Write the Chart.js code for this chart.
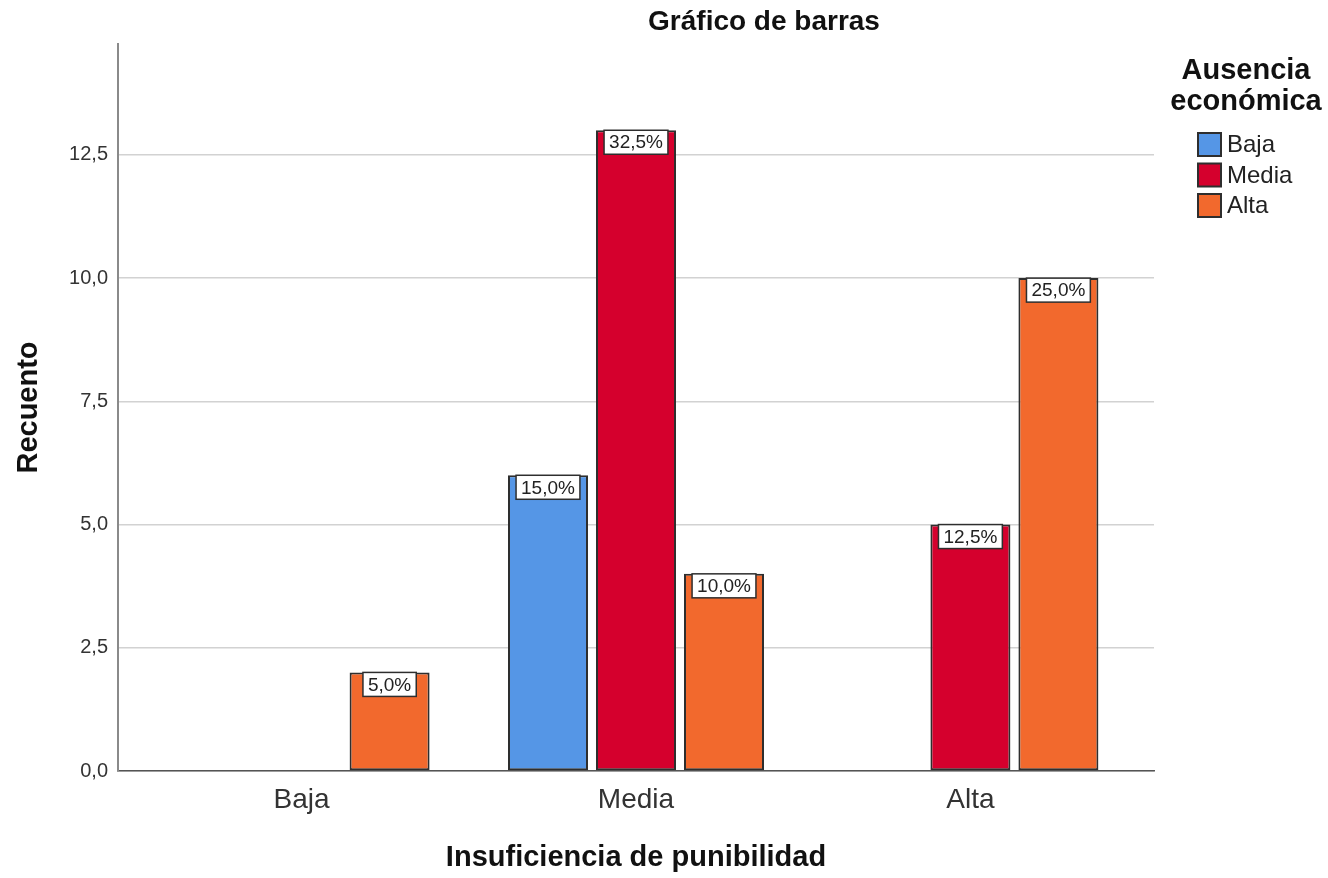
<!DOCTYPE html>
<html>
<head>
<meta charset="utf-8">
<title>Gráfico de barras</title>
<script src="https://cdn.jsdelivr.net/npm/chart.js@4/dist/chart.umd.min.js"></script>
<style>
  html, body { margin: 0; padding: 0; background: #fff; }
  canvas { display: block; }
</style>
</head>
<body>
<canvas id="bargraph" width="1328" height="878"></canvas>
<script>
// Insuficiencia de punibilidad (x) by Ausencia económica (series)
var categories = ["Baja", "Media", "Alta"];
var seriesNames = ["Baja", "Media", "Alta"];
var countsBaja = [null, 6, null];
var countsMedia = [null, 13, 5];
var countsAlta = [2, 4, 10];
var seriesColors = ["#5596e6", "#d5002d", "#f2692d"];
var yTicks = [0, 2.5, 5, 7.5, 10, 12.5];

var FONT = "'Liberation Sans', Arial, sans-serif";
var allCounts = [countsBaja, countsMedia, countsAlta];
var total = 0;
allCounts.forEach(function (arr) { arr.forEach(function (v) { if (v != null) total += v; }); });

function toPoints(arr) {
  return arr.map(function (v, i) { return { x: i, y: v }; });
}
function comma(v) { return v.toFixed(1).replace('.', ','); }

// white boxes with percentage on top of each bar
var barLabels = {
  id: 'barLabels',
  afterDatasetsDraw: function (chart) {
    var ctx = chart.ctx;
    ctx.save();
    ctx.font = '19px ' + FONT;
    ctx.textAlign = 'center';
    ctx.textBaseline = 'middle';
    chart.data.datasets.forEach(function (ds, i) {
      chart.getDatasetMeta(i).data.forEach(function (bar, j) {
        var v = ds.data[j].y;
        if (v == null) return;
        var txt = comma(v / total * 100) + '%';
        var w = ctx.measureText(txt).width + 10;
        var h = 24;
        var x = bar.x - w / 2, y = bar.y;
        ctx.fillStyle = '#fff';
        ctx.fillRect(x, y, w, h);
        ctx.strokeStyle = '#2e2e2e';
        ctx.lineWidth = 1.5;
        ctx.strokeRect(x, y, w, h);
        ctx.fillStyle = '#222';
        ctx.fillText(txt, bar.x, y + h / 2 + 1);
      });
    });
    ctx.restore();
  }
};

// chart title and the legend block on the right
var sideText = {
  id: 'sideText',
  afterDraw: function (chart) {
    var ctx = chart.ctx;
    ctx.save();
    ctx.fillStyle = '#111';
    ctx.textAlign = 'center';
    ctx.textBaseline = 'alphabetic';
    ctx.font = 'bold 28px ' + FONT;
    ctx.fillText('Gráfico de barras', 764, 30);

    ctx.font = 'bold 29px ' + FONT;
    ctx.fillText('Ausencia', 1246, 79);
    ctx.fillText('económica', 1246, 110);

    ctx.textAlign = 'left';
    ctx.textBaseline = 'middle';
    ctx.font = '24px ' + FONT;
    chart.data.datasets.forEach(function (ds, i) {
      var top = 133 + i * 30.5;
      ctx.fillStyle = ds.backgroundColor;
      ctx.fillRect(1198, top, 23, 23);
      ctx.strokeStyle = '#2e2e2e';
      ctx.lineWidth = 2;
      ctx.strokeRect(1198, top, 23, 23);
      ctx.fillStyle = '#222';
      ctx.fillText(ds.label, 1227, top + 12.5);
    });
    ctx.restore();
  }
};

var datasets = [countsBaja, countsMedia, countsAlta].map(function (arr, i) {
  return {
    label: seriesNames[i],
    data: toPoints(arr),
    backgroundColor: seriesColors[i],
    borderColor: '#2e2e2e',
    borderWidth: 2,
    borderSkipped: false,
    categoryPercentage: 0.7895,
    barPercentage: 0.909
  };
});

var ctx = document.getElementById('bargraph').getContext('2d');
window.myBar = new Chart(ctx, {
  type: 'bar',
  data: { datasets: datasets },
  plugins: [barLabels, sideText],
  options: {
    responsive: false,
    animation: false,
    layout: { padding: { top: 44, right: 174, left: 0, bottom: 0 } },
    plugins: {
      legend: { display: false },
      title: { display: false },
      tooltip: { enabled: false }
    },
    scales: {
      x: {
        type: 'linear',
        offset: false,
        min: -0.549,
        max: 2.549,
        afterBuildTicks: function (scale) {
          scale.ticks = categories.map(function (c, i) { return { value: i }; });
        },
        afterFit: function (scale) { scale.height = 107; },
        grid: { display: false, drawTicks: false, offset: false },
        border: { display: true, color: '#555', width: 1.5 },
        ticks: {
          padding: 12,
          color: '#333',
          font: { family: FONT, size: 28 },
          callback: function (v) { return categories[v]; }
        },
        title: {
          display: true,
          text: 'Insuficiencia de punibilidad',
          color: '#111',
          font: { family: FONT, size: 29, weight: 'bold' },
          padding: { top: 0, bottom: 3 }
        }
      },
      y: {
        min: 0,
        max: 14.75,
        afterBuildTicks: function (scale) {
          scale.ticks = yTicks.map(function (v) { return { value: v }; });
        },
        afterFit: function (scale) { scale.width = 118; },
        grid: { color: '#d2d2d2', lineWidth: 1.5, drawTicks: false },
        border: { display: true, color: '#8a8a8a', width: 2 },
        ticks: {
          padding: 10,
          color: '#333',
          font: { family: FONT, size: 20 },
          callback: function (v) { return comma(v); }
        },
        title: {
          display: true,
          text: 'Recuento',
          color: '#111',
          font: { family: FONT, size: 29, weight: 'bold' },
          padding: { top: 12, bottom: 0 }
        }
      }
    }
  }
});
</script>
</body>
</html>
